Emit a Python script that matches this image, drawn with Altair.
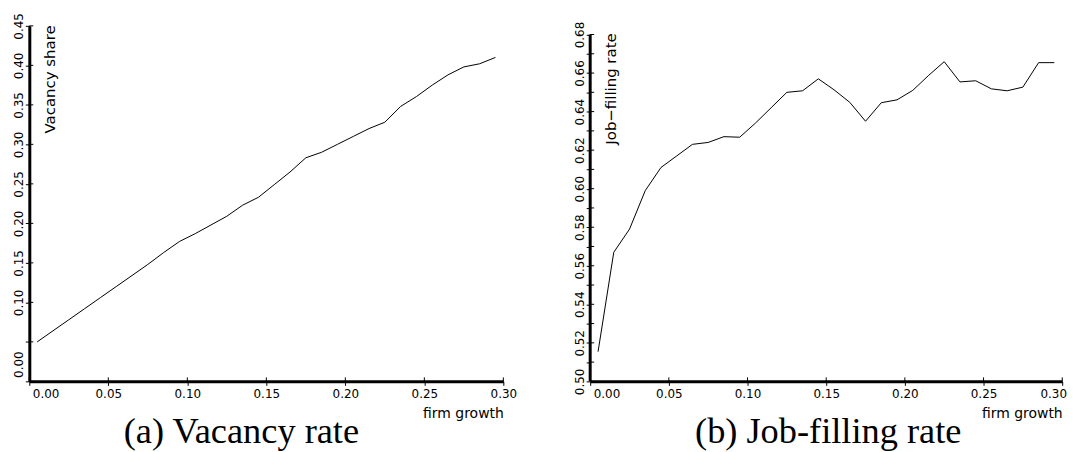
import altair as alt
import pandas as pd

growth = [0.005, 0.015, 0.025, 0.035, 0.045, 0.055, 0.065, 0.075, 0.085, 0.095,
          0.105, 0.115, 0.125, 0.135, 0.145, 0.155, 0.165, 0.175, 0.185, 0.195,
          0.205, 0.215, 0.225, 0.235, 0.245, 0.255, 0.265, 0.275, 0.285, 0.295]

vacancy = [0.050, 0.064, 0.078, 0.092, 0.106, 0.120, 0.134, 0.148, 0.163, 0.177,
           0.187, 0.198, 0.209, 0.223, 0.233, 0.249, 0.265, 0.283, 0.290, 0.300,
           0.310, 0.320, 0.328, 0.348, 0.3605, 0.375, 0.388, 0.398, 0.402, 0.410]

jobfill = [0.5154, 0.567, 0.579, 0.599, 0.611, 0.617, 0.623, 0.624, 0.627, 0.6267,
           0.634, 0.642, 0.650, 0.6508, 0.657, 0.6513, 0.6448, 0.635, 0.6446, 0.6461,
           0.651, 0.6587, 0.6659, 0.6554, 0.656, 0.6518, 0.6508, 0.6527, 0.6654, 0.6654]

x_ticks = [0.00, 0.05, 0.10, 0.15, 0.20, 0.25, 0.30]
vac_ticks = [0.00, 0.05, 0.10, 0.15, 0.20, 0.25, 0.30, 0.35, 0.40, 0.45]
job_ticks = [0.50, 0.51, 0.52, 0.53, 0.54, 0.55, 0.56, 0.57, 0.58, 0.59, 0.60,
             0.61, 0.62, 0.63, 0.64, 0.65, 0.66, 0.67, 0.68]
job_axis_span = [0.50, 0.68]

FONT = "DejaVu Sans"
SERIF = "Liberation Serif"

df_v = pd.DataFrame({"growth": growth, "value": vacancy})
df_j = pd.DataFrame({"growth": growth, "value": jobfill})
df_span = pd.DataFrame({"value": [job_axis_span[0]], "hi": [job_axis_span[1]]})
df_xt = pd.DataFrame({"growth": x_ticks})
df_vt = pd.DataFrame({"value": vac_ticks})
df_jt = pd.DataFrame({"value": job_ticks})

W_L, W_R, H = 476, 474, 357
TICK_IN = 4


def x_axis(width, last_offset):
    return alt.Axis(
        values=x_ticks, format=".2f", title="firm growth",
        labelAlign={"condition": {"test": "datum.value == 0", "value": "left"}, "value": "center"},
        labelOffset={"condition": [{"test": "datum.value == 0", "value": 3},
                                   {"test": "datum.value > 0.29", "value": last_offset}],
                     "value": 0},
        labelFlush=False, labelOverlap=False, labelPadding=3, tickSize=4,
        titleX=width, titleY=32, titleAlign="right", titleBaseline="middle",
    )


def cap(text, dx):
    return alt.TitleParams(text, orient="bottom", anchor="middle", dx=dx, offset=22.5,
                           baseline="alphabetic", font=SERIF, fontSize=36.5,
                           fontWeight="normal", color="black")


def panel(df, width, x_ax, y_scale, y_ax, y_tick_df, extra=None, title=None):
    x_scale = alt.Scale(domain=[0, 0.30], nice=False, zero=False)
    line = alt.Chart(df).mark_line(color="black", strokeWidth=1).encode(
        x=alt.X("growth:Q", scale=x_scale, axis=x_ax),
        y=alt.Y("value:Q", scale=y_scale, axis=y_ax),
    )
    y_in = alt.Chart(y_tick_df).mark_rule(color="black", strokeWidth=1).encode(
        y=alt.Y("value:Q", scale=y_scale, axis=y_ax),
        x=alt.value(0), x2=alt.value(TICK_IN),
    )
    x_in = alt.Chart(df_xt).mark_rule(color="black", strokeWidth=1).encode(
        x=alt.X("growth:Q", scale=x_scale, axis=x_ax),
        y=alt.value(H), y2=alt.value(H - TICK_IN),
    )
    layers = [line, y_in, x_in]
    if extra is not None:
        layers.append(extra(y_scale, y_ax))
    return alt.layer(*layers).properties(width=width, height=H, title=title)


vac_scale = alt.Scale(domain=[0, 0.45], nice=False)
vac_axis = alt.Axis(
    values=vac_ticks, title="Vacancy share",
    labelExpr="abs(datum.value - 0.05) < 0.001 ? '' : format(datum.value, '.2f')",
    labelAngle=270, labelBaseline="bottom",
    labelAlign={"condition": {"test": "datum.value == 0", "value": "left"}, "value": "center"},
    labelOffset={"condition": {"test": "datum.value == 0", "value": -4}, "value": 0},
    labelOverlap=False, labelFlush=False, labelPadding=0, tickSize=4,
    titleAngle=270, titleX=20.5, titleY=-1, titleAlign="right", titleBaseline="middle",
    titleFontSize=15,
)

job_scale = alt.Scale(domain=[0.50, 0.6845], nice=False, zero=False)
job_axis = alt.Axis(
    values=job_ticks, title="Job\u2212filling rate", domain=False,
    labelExpr="round(datum.value * 100) % 2 == 0 ? format(datum.value, '.2f') : ''",
    labelAngle=270, labelBaseline="bottom", labelAlign="center",
    labelOverlap=False, labelFlush=False, labelPadding=0, tickSize=4,
    titleAngle=270, titleX=20, titleY=7, titleAlign="right", titleBaseline="middle",
    titleFontSize=15,
)


def job_axis_line(y_scale, y_ax):
    return alt.Chart(df_span).mark_rule(color="black", strokeWidth=3).encode(
        x=alt.value(0),
        y=alt.Y("value:Q", scale=y_scale, axis=y_ax),
        y2="hi:Q",
    )


left = panel(df_v, W_L, x_axis(W_L, 0), vac_scale, vac_axis, df_vt,
             title=cap("(a) Vacancy rate", -25))
right = panel(df_j, W_R, x_axis(W_R, -9), job_scale, job_axis, df_jt,
              extra=job_axis_line, title=cap("(b) Job-filling rate", 2))

chart = alt.hconcat(left, right, spacing=55.2).properties(
    padding={"left": 3.4, "top": 3, "right": 0, "bottom": 0}
).configure_view(stroke=None).configure_axis(
    labelFont=FONT, labelFontSize=12, labelColor="black",
    titleFont=FONT, titleFontSize=14, titleFontWeight="normal", titleColor="black",
    domainColor="black", domainWidth=3, tickColor="black", tickWidth=1,
    grid=False,
)

chart.save("out.html", embed_options={"renderer": "svg", "actions": False})
